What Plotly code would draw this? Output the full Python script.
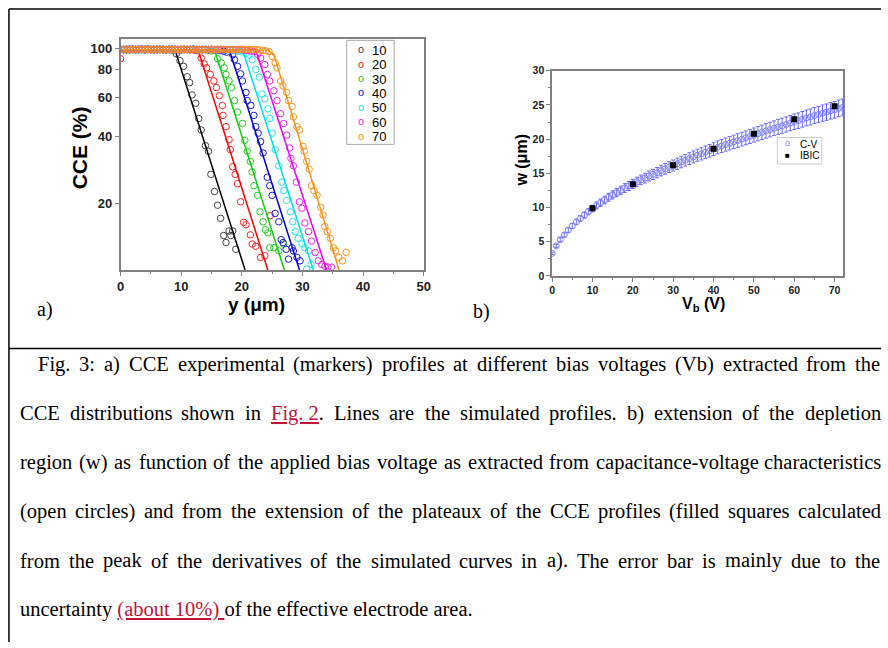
import plotly.graph_objects as go

W, H = 888, 648

# ---------------- Panel a) : CCE profiles ----------------
plateau_x = [0.0, 0.5, 1.0, 1.5, 2.0, 2.5, 3.0, 3.5, 4.0, 4.5,
             5.0, 5.5, 6.0, 6.5, 7.0, 7.5, 8.0, 8.5, 9.0, 9.5,
             10.0, 10.5, 11.0, 11.5, 12.0, 12.5, 13.0, 13.5, 14.0, 14.5,
             15.0, 15.5, 16.0, 16.5, 17.0, 17.5, 18.0, 18.5, 19.0, 19.5,
             20.0, 20.5, 21.0, 21.5, 22.0, 22.5, 23.0, 23.5, 24.0, 24.5]

plat10 = [98.6, 98.9, 98.3, 99.1, 98.7, 98.4, 99.0, 98.8, 98.5, 99.2, 98.6, 98.3,
          98.9, 98.7, 99.0, 98.4, 98.8, 98.2]
plat20 = [89.7, 98.8, 98.5, 99.0, 98.6, 98.9, 98.3, 98.7, 99.1, 98.5, 98.8, 98.4,
          99.0, 98.6, 98.9, 98.2, 98.7, 99.0, 98.5, 98.8, 98.3, 98.9, 98.6, 98.4,
          98.1, 97.6]
plat30 = [98.7, 98.4, 99.0, 98.6, 98.9, 98.5, 98.8, 99.1, 98.3, 98.7, 98.9, 98.5,
          98.6, 99.0, 98.4, 98.8, 98.6, 98.9, 98.3, 98.7, 99.0, 98.5, 98.8, 98.4,
          98.9, 98.6, 98.2, 98.7, 98.4, 97.9, 97.2]
plat40 = [98.9, 98.5, 98.8, 98.3, 99.0, 98.6, 98.7, 99.1, 98.4, 98.8, 98.5, 98.9,
          98.6, 99.0, 98.3, 98.7, 98.8, 98.5, 99.0, 98.6, 98.4, 98.9, 98.7, 98.5,
          99.1, 98.6, 98.8, 98.3, 98.9, 98.6, 98.7, 98.4, 98.2, 97.8, 97.0, 96.0]
plat50 = [98.5, 98.9, 98.6, 99.0, 98.4, 98.8, 98.7, 98.3, 99.1, 98.6, 98.9, 98.5,
          98.7, 99.0, 98.4, 98.8, 98.6, 98.9, 98.3, 98.7, 99.0, 98.5, 98.8, 98.6,
          98.4, 98.9, 98.7, 98.5, 99.0, 98.6, 98.8, 98.3, 98.9, 98.6, 98.7, 98.4,
          98.5, 98.1, 97.6, 97.0, 96.2]
plat60 = [98.8, 98.4, 99.0, 98.6, 98.9, 98.5, 98.7, 99.1, 98.3, 98.8, 98.6, 99.0,
          98.4, 98.7, 98.9, 98.5, 98.8, 99.0, 98.6, 98.3, 98.9, 98.7, 98.5, 99.1,
          98.6, 98.8, 98.4, 98.9, 98.7, 98.5, 99.0, 98.6, 98.8, 98.3, 98.9, 98.6,
          98.7, 98.4, 98.8, 98.5, 98.3, 98.0, 97.6, 97.1, 96.6]
plat70 = [98.9, 98.6, 99.1, 98.7, 98.4, 98.9, 98.6, 99.0, 98.5, 98.8, 98.7, 99.1,
          98.4, 98.8, 98.9, 98.6, 99.0, 98.5, 98.7, 98.9, 98.4, 98.8, 99.1, 98.6,
          98.7, 98.9, 98.5, 99.0, 98.6, 98.8, 98.4, 98.9, 98.7, 99.1, 98.5, 98.8,
          98.6, 98.9, 98.4, 98.7, 99.0, 98.6, 98.8, 98.5, 98.7, 98.4, 98.2, 97.8,
          97.3, 96.6]

fall_x10 = [9.2, 9.8, 10.4, 11.0, 11.4, 11.8, 12.4, 12.9, 13.3, 14.0, 14.5, 14.9,
            15.5, 16.0, 16.5, 17.0, 17.4, 17.9, 18.2, 18.5, 19.0]
fall_y10 = [94.4, 87.9, 82.9, 74.4, 70.0, 61.6, 56.5, 48.2, 42.8, 36.4, 34.3, 27.0,
            22.6, 19.6, 17.1, 14.3, 13.3, 15.0, 14.3, 15.0, 12.4]
fall_x20 = [13.3, 13.8, 14.2, 14.8, 15.4, 15.8, 16.3, 16.8, 16.9, 17.4, 17.9, 18.1,
            18.5, 18.9, 19.3, 19.8, 20.3, 20.7, 21.4, 21.7, 22.3, 23.1, 23.8, 24.7]
fall_y20 = [90.3, 85.0, 81.6, 76.2, 71.2, 66.5, 61.1, 55.2, 49.8, 44.3, 38.7, 34.9,
            29.2, 27.0, 24.5, 20.3, 16.4, 16.0, 14.4, 13.1, 12.8, 11.4, 11.6, 17.6]
fall_x30 = [16.0, 16.6, 17.1, 17.4, 17.9, 18.3, 18.8, 19.3, 20.1, 20.5, 20.9, 21.4,
            21.7, 22.0, 22.6, 23.0, 23.5, 23.9, 24.3, 24.6, 25.3, 26.1, 26.9]
fall_y30 = [89.7, 85.8, 81.6, 76.2, 71.2, 66.5, 58.1, 51.6, 45.8, 38.4, 34.3, 30.9,
            27.7, 24.0, 21.7, 18.3, 16.5, 15.2, 14.7, 12.6, 12.6, 12.2, 13.1]
fall_x40 = [18.5, 18.8, 19.3, 19.8, 20.1, 20.7, 20.9, 21.5, 22.0, 22.3, 22.7, 23.1,
            23.5, 24.2, 24.6, 25.0, 25.5, 26.1, 26.5, 26.8, 27.3, 27.7, 28.3, 28.5,
            29.1, 29.6]
fall_y40 = [93.4, 88.8, 82.9, 76.7, 71.2, 63.2, 58.1, 55.2, 49.8, 44.3, 41.4, 37.9,
            33.7, 26.2, 24.0, 21.7, 18.0, 16.5, 13.7, 13.3, 12.4, 11.2, 12.6, 12.2,
            11.4, 11.0]
fall_x50 = [20.7, 21.2, 21.7, 22.3, 22.9, 23.3, 23.8, 24.3, 24.6, 25.0, 25.5, 26.1,
            26.6, 26.9, 27.4, 28.0, 28.4, 28.8, 29.3, 29.9, 30.4, 31.0, 31.4, 30.7]
fall_y50 = [95.0, 93.4, 88.8, 80.2, 74.1, 62.2, 59.1, 53.3, 48.2, 41.4, 34.9, 29.5,
            24.9, 22.8, 20.6, 18.3, 16.5, 14.9, 13.9, 13.1, 12.6, 12.2, 10.6, 10.1]
fall_x60 = [22.6, 23.1, 23.8, 24.2, 24.6, 25.3, 25.8, 26.4, 26.9, 27.4, 27.9, 28.1,
            28.5, 29.0, 29.5, 29.9, 30.4, 31.0, 31.5, 32.1, 32.6, 33.2, 33.7, 34.2,
            34.8]
fall_y60 = [94.0, 90.3, 84.4, 76.2, 71.2, 64.3, 58.1, 50.7, 45.8, 40.6, 35.5, 31.9,
            29.5, 24.9, 20.3, 19.0, 16.3, 14.9, 13.5, 12.0, 11.0, 10.6, 10.4, 10.3,
            10.3]
fall_x70 = [25.0, 25.5, 25.8, 26.4, 26.8, 27.4, 27.7, 28.3, 28.5, 29.1, 29.5, 30.1,
            30.3, 30.7, 31.1, 31.5, 31.9, 32.4, 33.0, 33.4, 33.7, 34.1, 34.6, 35.1,
            35.5, 36.0, 36.6, 37.2]
fall_y70 = [91.9, 85.8, 81.6, 71.2, 67.6, 63.2, 58.1, 54.6, 49.0, 44.3, 42.8, 36.1,
            34.3, 30.9, 28.5, 24.0, 22.8, 21.7, 19.2, 17.7, 15.7, 14.9, 13.9, 12.6,
            12.2, 11.4, 11.0, 12.0]

# simulated profiles (lines)
sim_x10 = [0.0, 8.97, 20.54]
sim_y10 = [98.5, 98.5, 10.0]
sim_x20 = [0.0, 12.77, 24.29]
sim_y20 = [98.5, 98.5, 10.0]
sim_x30 = [0.0, 15.49, 27.01]
sim_y30 = [98.5, 98.5, 10.0]
sim_x40 = [0.0, 17.93, 29.51]
sim_y40 = [98.5, 98.5, 10.0]
sim_x50 = [0.0, 20.11, 31.79]
sim_y50 = [98.5, 98.5, 10.0]
sim_x60 = [0.0, 22.28, 33.97]
sim_y60 = [98.5, 98.5, 10.0]
sim_x70 = [0.0, 24.3, 24.9, 25.4, 36.03]
sim_y70 = [98.5, 98.2, 95.5, 91.5, 10.0]

bias_labels = ["10", "20", "30", "40", "50", "60", "70"]
marker_colors = ["#444444", "#ff2020", "#22cc22", "#1a1ad0", "#22e6e6", "#ee22ee", "#f7941d"]
line_colors = ["#000000", "#ff0000", "#11cc11", "#0000dd", "#00e0e0", "#ee00ee", "#f7941d"]

plats = [plat10, plat20, plat30, plat40, plat50, plat60, plat70]
falls_x = [fall_x10, fall_x20, fall_x30, fall_x40, fall_x50, fall_x60, fall_x70]
falls_y = [fall_y10, fall_y20, fall_y30, fall_y40, fall_y50, fall_y60, fall_y70]
sims_x = [sim_x10, sim_x20, sim_x30, sim_x40, sim_x50, sim_x60, sim_x70]
sims_y = [sim_y10, sim_y20, sim_y30, sim_y40, sim_y50, sim_y60, sim_y70]

# ---------------- Panel b) : depletion width ----------------
vb_cv = [0, 1, 2, 3, 4, 5, 6, 7, 8, 9, 10, 11, 12, 13, 14, 15, 16, 17, 18, 19, 20,
         21, 22, 23, 24, 25, 26, 27, 28, 29, 30, 31, 32, 33, 34, 35, 36, 37, 38, 39,
         40, 41, 42, 43, 44, 45, 46, 47, 48, 49, 50, 51, 52, 53, 54, 55, 56, 57, 58,
         59, 60, 61, 62, 63, 64, 65, 66, 67, 68, 69, 70, 71, 72]
w_cv = [3.3, 4.4, 5.3, 6.0, 6.7, 7.3, 7.9, 8.4, 8.9, 9.4, 9.85, 10.3, 10.7, 11.1,
        11.5, 11.85, 12.2, 12.5, 12.85, 13.15, 13.45, 13.75, 14.05, 14.3, 14.6, 14.85,
        15.1, 15.4, 15.65, 15.9, 16.15, 16.4, 16.65, 16.9, 17.15,
        17.4, 17.65, 17.85, 18.1, 18.3, 18.55, 18.8, 19.0, 19.2, 19.4, 19.6, 19.8,
        20.0, 20.2, 20.4, 20.6, 20.8, 21.0, 21.2, 21.4, 21.6, 21.8, 21.95, 22.15,
        22.35, 22.55, 22.7, 22.9, 23.1, 23.25, 23.45, 23.6, 23.8, 23.95, 24.15, 24.3,
        24.5, 24.65]
w_cv_err_percent = 5
vb_ibic = [10, 20, 30, 40, 50, 60, 70]
w_ibic = [9.9, 13.4, 16.2, 18.6, 20.8, 22.9, 24.8]

fig = go.Figure()

for i in range(7):
    n = len(plats[i])
    fig.add_trace(go.Scatter(
        x=plateau_x[:n] + falls_x[i], y=plats[i] + falls_y[i], mode="markers",
        marker=dict(symbol="circle-open", size=6.5, color=marker_colors[i],
                    line=dict(width=1, color=marker_colors[i])),
        xaxis="x", yaxis="y", showlegend=False, cliponaxis=True))
    fig.add_trace(go.Scatter(
        x=sims_x[i], y=sims_y[i], mode="lines",
        line=dict(color=line_colors[i], width=1.5),
        xaxis="x", yaxis="y", showlegend=False))

fig.add_trace(go.Scatter(
    x=vb_cv, y=w_cv, mode="markers",
    marker=dict(symbol="circle-open", size=6, color="#8080ff", line=dict(width=1, color="#8080ff")),
    error_y=dict(type="percent", value=w_cv_err_percent, color="#6a6aff", thickness=1, width=2),
    xaxis="x2", yaxis="y2", showlegend=False))
fig.add_trace(go.Scatter(
    x=vb_ibic, y=w_ibic, mode="markers",
    marker=dict(symbol="square", size=6, color="black"),
    xaxis="x2", yaxis="y2", showlegend=False))

SANS = "Liberation Sans, Arial, sans-serif"
SERIF = "Liberation Serif, Times New Roman, serif"
AXC = "#808080"

fig.update_layout(
    width=W, height=648, autosize=False,
    margin=dict(l=0, r=0, t=0, b=0),
    paper_bgcolor="white", plot_bgcolor="white",
    showlegend=False,
    xaxis=dict(domain=[118 / W, 425 / W], range=[0, 50], anchor="y",
               tickvals=[0, 10, 20, 30, 40, 50], ticks="outside", ticklen=4, tickwidth=1.2,
               tickcolor=AXC, showline=True, linecolor=AXC, linewidth=1.5, mirror=True,
               showgrid=False, zeroline=False,
               minor=dict(dtick=5, ticks="outside", ticklen=2, tickcolor=AXC),
               tickfont=dict(family=SANS, size=13, color="#222", weight="bold")),
    yaxis=dict(domain=[1 - 269 / H, 1 - 34 / H], type="log", range=[1.0, 2.04], anchor="x",
               tickvals=[20, 40, 60, 80, 100], ticktext=["20", "40", "60", "80", "100"],
               ticks="outside", ticklen=4, tickwidth=1.2, tickcolor=AXC,
               showline=True, linecolor=AXC, linewidth=1.5, mirror=True,
               showgrid=False, zeroline=False,
               tickfont=dict(family=SANS, size=13, color="#222", weight="bold")),
    xaxis2=dict(domain=[555 / W, 850 / W], range=[0, 72.2], anchor="y2",
                tickvals=[0, 10, 20, 30, 40, 50, 60, 70], ticks="outside", ticklen=4,
                tickcolor=AXC, showline=True, linecolor=AXC, linewidth=1.5, mirror=True,
                showgrid=False, zeroline=False,
                minor=dict(dtick=5, ticks="outside", ticklen=2, tickcolor=AXC),
                tickfont=dict(family=SANS, size=10.5, color="#222", weight="bold")),
    yaxis2=dict(domain=[1 - 275 / H, 1 - 66 / H], range=[0, 30], anchor="x2",
                tickvals=[0, 5, 10, 15, 20, 25, 30], ticks="outside", ticklen=4,
                tickcolor=AXC, showline=True, linecolor=AXC, linewidth=1.5, mirror=True,
                showgrid=False, zeroline=False,
                minor=dict(dtick=2.5, ticks="outside", ticklen=2, tickcolor=AXC),
                tickfont=dict(family=SANS, size=10.5, color="#222", weight="bold")),
)

shapes = []
ann = []


def A(text, x, y, size, family=SANS, color="black", xanchor="center", yanchor="middle", angle=0):
    ann.append(dict(text=text, x=x / W, y=1 - y / H, xref="paper", yref="paper",
                    showarrow=False, xanchor=xanchor, yanchor=yanchor, textangle=angle,
                    borderpad=0, borderwidth=0,
                    font=dict(family=family, size=size, color=color)))


# table borders
for (x0, y0, x1, y1) in [(5, 3, 5, 648), (5, 3, 888, 3), (5, 349, 888, 349)]:
    shapes.append(dict(type="line", xref="paper", yref="paper", x0=x0 / W, x1=x1 / W,
                       y0=1 - y0 / H, y1=1 - y1 / H, line=dict(color="black", width=1.5)))

# axis titles
A("<b>CCE (%)</b>", 76, 145, 21, angle=-90)
A("<b>y (\u03bcm)</b>", 256, 304, 19)
A("<b>w (\u03bcm)</b>", 524, 157, 16, angle=-90)
A("<b>V<sub>b</sub> (V)</b>", 708, 304, 16)

# panel labels
A("a)", 42, 309, 20, family=SERIF)
A("b)", 483, 311, 20, family=SERIF)

# legend panel a)
shapes.append(dict(type="rect", xref="paper", yref="paper", x0=347 / W, x1=395 / W,
                   y0=1 - 35 / H, y1=1 - 141 / H, line=dict(color="#aaaaaa", width=1),
                   fillcolor="white", layer="above"))
for i, lab in enumerate(bias_labels):
    yy = 45 + i * 14.7
    A("o", 361, yy - 1, 11, color=marker_colors[i])
    A(lab, 373, yy, 13, xanchor="left")

# legend panel b)
shapes.append(dict(type="rect", xref="paper", yref="paper", x0=783 / W, x1=828 / W,
                   y0=1 - 134 / H, y1=1 - 161 / H, line=dict(color="#cccccc", width=1),
                   fillcolor="white", layer="above"))
A("o", 793, 140, 9, color="#8080ff")
A("C-V", 806, 141, 10, xanchor="left")
A("\u25a0", 793, 152, 8)
A("IBIC", 806, 152, 10, xanchor="left")

# ---------------- caption (justified) ----------------
TWID = {' ': 250, '\u00a0': 250, '(': 333, ')': 333, '-': 333, '.': 250, ',': 250, ':': 278,
        '%': 833, 'A': 722, 'B': 667, 'C': 667, 'D': 722, 'E': 611, 'F': 556, 'G': 722,
        'H': 722, 'I': 333, 'L': 611, 'T': 611, 'V': 722,
        'a': 444, 'b': 500, 'c': 444, 'd': 500, 'e': 444, 'f': 333, 'g': 500, 'h': 500,
        'i': 278, 'j': 278, 'k': 500, 'l': 278, 'm': 778, 'n': 500, 'o': 500, 'p': 500,
        'q': 500, 'r': 333, 's': 389, 't': 278, 'u': 500, 'v': 500, 'w': 722, 'x': 500,
        'y': 500, 'z': 444}
FS = 20.5
LINK = "#c0143c"


def tw(s):
    return sum(TWID.get(c, 500) for c in s) * FS / 1000.0


def words(s):
    return [(w, w) for w in s.split(" ")]


cap = [
    (34, 365, words("Fig. 3: a) CCE experimental (markers) profiles at different bias voltages (Vb) extracted from the")),
    (16, 415, words("CCE distributions shown in")
     + [("<span style='color:%s'><u>Fig.\u00a02</u></span>." % LINK, "Fig.\u00a02.")]
     + words("Lines are the simulated profiles. b) extension of the depletion")),
    (16, 465, words("region (w) as function of the applied bias voltage as extracted from capacitance-voltage characteristics")),
    (16, 515, words("(open circles) and from the extension of the plateaux of the CCE profiles (filled squares calculated")),
    (16, 565, words("from the peak of the derivatives of the simulated curves in a). The error bar is mainly due to the")),
]
RIGHT = 887
for (x0, yc, ws) in cap:
    total = sum(tw(p) for _, p in ws)
    gap = (RIGHT - x0 - total) / (len(ws) - 1)
    x = x0
    for html, plain in ws:
        A(html, x, yc, FS, family=SERIF, xanchor="left")
        x += tw(plain) + gap

A("uncertainty <span style='color:%s'><u>(about 10%%)\u00a0</u></span>of the effective electrode area." % LINK,
  16, 615, FS, family=SERIF, xanchor="left")

fig.update_layout(shapes=shapes, annotations=ann)
fig.write_html("out.html", config={"displayModeBar": False})
